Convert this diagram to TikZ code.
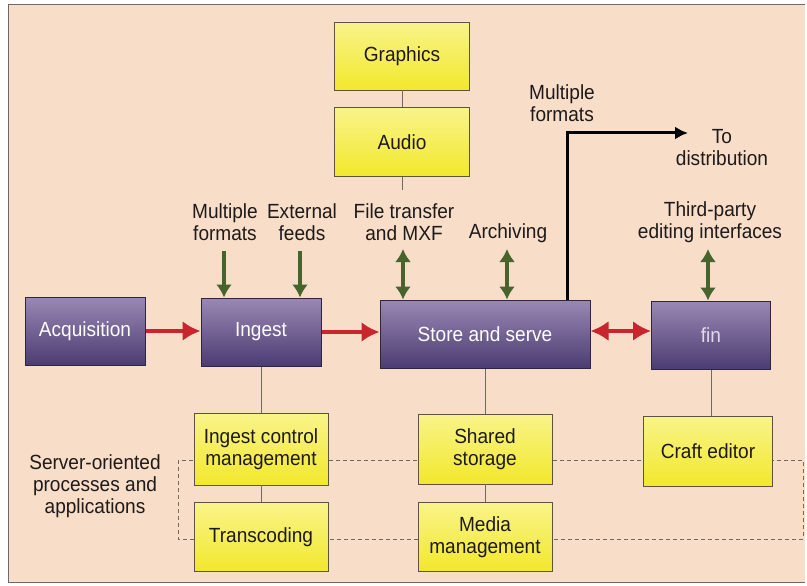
\documentclass[tikz,border=0pt]{standalone}
\usepackage{fontspec}
\setmainfont[FakeStretch=0.93]{Liberation Sans}
\usetikzlibrary{arrows.meta}
\definecolor{bgc}{HTML}{F8DDC9}
\definecolor{framec}{HTML}{6E6A6A}
\definecolor{purtop}{HTML}{9A88B4}
\definecolor{purbot}{HTML}{4B3C72}
\definecolor{purdraw}{HTML}{2E2640}
\definecolor{yeltop}{HTML}{F9F48A}
\definecolor{yelbot}{HTML}{F2E82C}
\definecolor{yeldraw}{HTML}{5A5440}
\definecolor{redarr}{HTML}{C8262C}
\definecolor{grnarr}{HTML}{46642C}
\definecolor{txt}{HTML}{1E1A1A}
\begin{document}
\begin{tikzpicture}[x=1pt,y=-1pt,
  font=\fontsize{20.5}{22}\selectfont,
  purplebox/.style={draw=purdraw, line width=1pt, top color=purtop, bottom color=purbot,
    minimum height=68pt, text=white, inner sep=2pt},
  yellowbox/.style={draw=yeldraw, line width=0.8pt, top color=yeltop, bottom color=yelbot,
    minimum width=130pt, minimum height=68pt, text=txt, align=center, inner sep=2pt},
  lbl/.style={text=txt, align=center, inner sep=0pt},
  link/.style={draw=framec, line width=0.9pt},
  redarrow/.style={draw=redarr, line width=4.5pt, -{Latex[length=18pt,width=20pt]}},
  reddouble/.style={draw=redarr, line width=4.5pt, {Latex[length=18pt,width=20pt]}-{Latex[length=18pt,width=20pt]}},
  grnarrow/.style={draw=grnarr, line width=4pt, -{Latex[length=13pt,width=16pt]}},
  grndouble/.style={draw=grnarr, line width=4pt, {Latex[length=13pt,width=16pt]}-{Latex[length=13pt,width=16pt]}},
  blkarrow/.style={draw=black, line width=3pt, -{Latex[length=13pt,width=13pt]}}
]
\useasboundingbox (0,0) rectangle (807,586);
\fill[white] (0,0) rectangle (807,586);
\fill[bgc] (8,5) rectangle (805,582);
\draw[framec, line width=1pt] (8,5) -- (805,5);
\draw[framec, line width=1pt] (8,5) -- (8,582) -- (805,582);

% dashed loop
\draw[framec, line width=0.9pt, dash pattern=on 4pt off 3pt] (178,460) rectangle (803,539);

% yellow boxes
\node[yellowbox, minimum width=135pt, minimum height=68pt] (graphics) at (402,56) {Graphics};
\node[yellowbox, minimum width=135pt, minimum height=69pt] (audio) at (402,142) {Audio};
\node[yellowbox, minimum width=134pt, minimum height=72pt] (icm) at (261,449) {Ingest control\\management};
\node[yellowbox, minimum width=134pt, minimum height=69pt] (trans) at (261,537) {Transcoding};
\node[yellowbox, minimum width=134pt, minimum height=70pt] (shared) at (485,449) {Shared\\storage};
\node[yellowbox, minimum width=134pt, minimum height=69pt] (media) at (485,537) {Media\\management};
\node[yellowbox, minimum width=129pt, minimum height=70pt] (craft) at (708,451) {Craft editor};

% purple boxes
\node[purplebox, minimum width=120pt] (acq) at (85,331) {Acquisition};
\node[purplebox, minimum width=120pt] (ingest) at (261,332) {Ingest};
\node[purplebox, minimum width=210pt] (store) at (485,334) {Store and serve};
\node[purplebox, minimum width=119pt, text=white!70!purtop] (fin) at (711,335) {fin};

% vertical links
\coordinate (audiotail) at (402,190);
\draw[link] (graphics) -- (audio);
\draw[link] (audio.south) -- (audiotail);
\draw[link] (ingest.south) -- (ingest.south |- icm.north);
\draw[link] (icm) -- (trans);
\draw[link] (store) -- (shared);
\draw[link] (shared) -- (media);
\draw[link] (fin.south) -- (fin.south |- craft.north);

% red arrows
\draw[redarrow] (acq.east) -- (acq.east -| ingest.west);
\draw[redarrow] (ingest.east) -- (ingest.east -| store.west);
\draw[reddouble] ([yshift=3pt]store.east) -- ([yshift=3pt]store.east -| fin.west);

% labels
\node[lbl] (mf1) at (225,222) {Multiple\\formats};
\node[lbl] (ext) at (302,222) {External\\feeds};
\node[lbl] (ftx) at (404,222) {File transfer\\and MXF};
\node[lbl] (arc) at (508,233) {Archiving};
\node[lbl] (tpe) at (710,222) {Third-party\\editing interfaces};
\node[lbl] (mf2) at (562,103) {Multiple\\formats};
\node[lbl] (dist) at (722,148) {To\\distribution};
\node[lbl] (srv) at (95,486) {Server-oriented\\processes and\\applications};

% green arrows
\coordinate (g1) at (224,251);
\coordinate (g2) at (300,251);
\coordinate (g3) at (403,249);
\coordinate (g4) at (507,249);
\coordinate (g5) at (708,249);
\draw[grnarrow] (g1) -- (g1 |- ingest.north);
\draw[grnarrow] (g2) -- (g2 |- ingest.north);
\draw[grndouble] (g3) -- (g3 |- store.north);
\draw[grndouble] (g4) -- (g4 |- store.north);
\draw[grndouble] (g5) -- (g5 |- fin.north);

% black distribution arrow
\coordinate (bcorner) at (567,133);
\coordinate (bend) at (688,133);
\draw[blkarrow] (bcorner |- store.north) -- (bcorner) -- (bend);
\end{tikzpicture}
\end{document}
